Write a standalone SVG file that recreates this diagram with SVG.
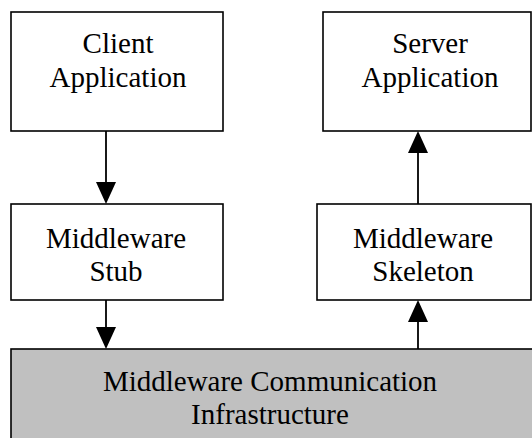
<svg xmlns="http://www.w3.org/2000/svg" width="532" height="438" viewBox="0 0 532 438">
<style>
.box{fill:#fff;stroke:#000;stroke-width:1.6}
.infra{fill:#c0c0c0;stroke:#000;stroke-width:1.6}
.t{font-family:"Liberation Serif","Times New Roman",serif;font-size:29px;fill:#000;text-anchor:middle}
.ln{stroke:#000;stroke-width:1.8;fill:none}
.ah{fill:#000}
</style>
<rect width="532" height="438" fill="#fff"/>
<g id="client">
<rect class="box" x="11" y="12" width="212" height="119"/>
<text class="t" x="118" y="53">Client</text>
<text class="t" x="118" y="87">Application</text>
</g>
<g id="server">
<rect class="box" x="323" y="12" width="208" height="119"/>
<text class="t" x="430" y="53">Server</text>
<text class="t" x="430" y="87">Application</text>
</g>
<g id="stub">
<rect class="box" x="11" y="204" width="212" height="96"/>
<text class="t" x="116" y="248">Middleware</text>
<text class="t" x="116" y="281">Stub</text>
</g>
<g id="skeleton">
<rect class="box" x="317" y="204" width="214" height="96"/>
<text class="t" x="423" y="248">Middleware</text>
<text class="t" x="423" y="281">Skeleton</text>
</g>
<g id="infra">
<rect class="infra" x="11" y="349" width="530" height="100"/>
<text class="t" x="270" y="391">Middleware Communication</text>
<text class="t" x="270" y="424">Infrastructure</text>
</g>
<g id="connectors">
<line class="ln" x1="106" y1="131" x2="106" y2="184"/>
<polygon class="ah" points="96,182 116,182 106,204"/>
<line class="ln" x1="106" y1="300" x2="106" y2="329"/>
<polygon class="ah" points="96,327 116,327 106,349"/>
<line class="ln" x1="418" y1="349" x2="418" y2="320"/>
<polygon class="ah" points="408,322 428,322 418,300"/>
<line class="ln" x1="418" y1="204" x2="418" y2="151"/>
<polygon class="ah" points="408,153 428,153 418,131"/>
</g>
</svg>
